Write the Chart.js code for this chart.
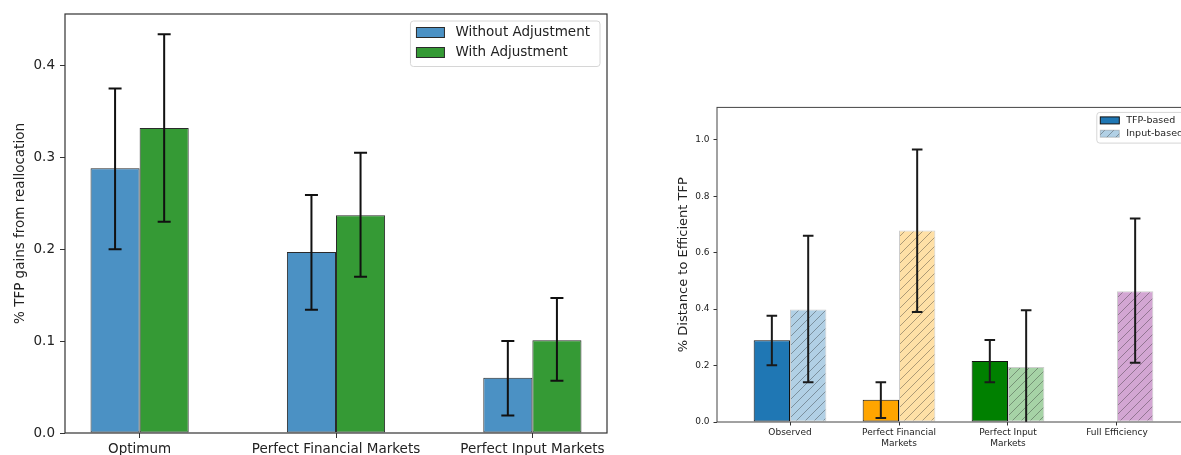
<!DOCTYPE html>
<html>
<head>
<meta charset="utf-8">
<script src="https://cdn.jsdelivr.net/npm/chart.js@4.4.1/dist/chart.umd.min.js"></script>
<style>
  html, body { margin: 0; padding: 0; background: #fff; width: 1181px; height: 455px; overflow: hidden; }
  #gains { position: absolute; left: 0; top: 0; }
  #distance { position: absolute; left: 660px; top: 98px; }
</style>
</head>
<body>
<canvas id="gains" width="640" height="455"></canvas>
<canvas id="distance" width="560" height="355"></canvas>
<script>
// TFP gains from reallocation, with and without adjustment
const gainScenarios = ['Optimum', 'Perfect Financial Markets', 'Perfect Input Markets'];
const withoutAdj = [0.288, 0.197, 0.060];
const withoutAdjLow = [0.200, 0.134, 0.019];
const withoutAdjHigh = [0.375, 0.259, 0.100];
const withAdj = [0.332, 0.237, 0.101];
const withAdjLow = [0.230, 0.170, 0.057];
const withAdjHigh = [0.434, 0.305, 0.147];
const gainTicks = [0, 0.1, 0.2, 0.3, 0.4];

// Distance to efficient TFP, TFP-based vs input-based
const distScenarios = [['Observed'], ['Perfect Financial', 'Markets'], ['Perfect Input', 'Markets'], ['Full Efficiency']];
const tfpBased = [0.290, 0.079, 0.216, 0.002];
const tfpLow = [0.201, 0.014, 0.141, null];
const tfpHigh = [0.377, 0.141, 0.291, null];
const inputBased = [0.399, 0.679, 0.195, 0.463];
const inputLow = [0.141, 0.390, -0.020, 0.210];
const inputHigh = [0.660, 0.966, 0.396, 0.721];
const distTicks = [0, 0.2, 0.4, 0.6, 0.8, 1.0];
const scenarioColors = ['#1f77b4', '#ffa500', '#008000', '#800080'];
const scenarioLight = ['#b1d0e5', '#ffe0a6', '#a6d3a6', '#d3a6d3'];

const FONT = 'DejaVu Sans';
const toPoints = arr => arr.map((v, i) => ({ x: i, y: v }));
const first = c => Array.isArray(c) ? c[0] : c;

// diagonal "//" hatch on a light fill
function hatch(ctx, color) {
    const c = document.createElement('canvas');
    c.width = c.height = 9;
    const g = c.getContext('2d');
    g.fillStyle = color;
    g.fillRect(0, 0, 9, 9);
    g.strokeStyle = 'rgba(40,40,40,0.38)';
    g.lineWidth = 1;
    g.beginPath();
    g.moveTo(-1, 10); g.lineTo(10, -1);
    g.moveTo(-1, 1); g.lineTo(1, -1);
    g.moveTo(8, 10); g.lineTo(10, 8);
    g.stroke();
    return ctx.createPattern(c, 'repeat');
}

// asymmetric error bars read from dataset.errLow / dataset.errHigh
const errorBars = {
    id: 'errorBars',
    afterDatasetsDraw(chart, args, opts) {
        const { ctx, chartArea: a } = chart;
        const y = chart.scales.y;
        ctx.save();
        ctx.beginPath();
        ctx.rect(a.left, a.top, a.right - a.left, a.bottom - a.top);
        ctx.clip();
        ctx.strokeStyle = opts.color;
        ctx.lineWidth = opts.width;
        chart.data.datasets.forEach((ds, di) => {
            if (!ds.errLow) return;
            chart.getDatasetMeta(di).data.forEach((bar, i) => {
                const lo = ds.errLow[i], hi = ds.errHigh[i];
                if (lo == null) return;
                const yLo = y.getPixelForValue(lo), yHi = y.getPixelForValue(hi);
                ctx.beginPath();
                ctx.moveTo(bar.x, yLo); ctx.lineTo(bar.x, yHi);
                ctx.moveTo(bar.x - opts.cap, yLo); ctx.lineTo(bar.x + opts.cap, yLo);
                ctx.moveTo(bar.x - opts.cap, yHi); ctx.lineTo(bar.x + opts.cap, yHi);
                ctx.stroke();
            });
        });
        ctx.restore();
    }
};

// full box around the plot area
const frame = {
    id: 'frame',
    afterDatasetsDraw(chart, args, opts) {
        const { ctx, chartArea: a } = chart;
        ctx.save();
        ctx.strokeStyle = opts.color;
        ctx.lineWidth = opts.width;
        ctx.strokeRect(a.left, a.top, a.right - a.left, a.bottom - a.top);
        ctx.restore();
    }
};

// framed legend in the upper right corner of the plot area
const boxLegend = {
    id: 'boxLegend',
    afterDraw(chart, args, o) {
        const { ctx, chartArea: a } = chart;
        const items = chart.data.datasets;
        ctx.save();
        ctx.font = `${o.size}px "${FONT}"`;
        const textW = Math.max(...items.map(ds => ctx.measureText(ds.label).width));
        const w = o.padLeft + o.patchW + o.gap + textW + o.padRight;
        const h = o.padTop + o.rowH * (items.length - 1) + o.padBottom;
        const x0 = a.right - o.insetRight - w;
        const y0 = a.top + o.insetTop;
        ctx.beginPath();
        ctx.roundRect(x0, y0, w, h, 3);
        ctx.fillStyle = 'rgba(255,255,255,0.85)';
        ctx.fill();
        ctx.strokeStyle = '#d6d6d6';
        ctx.lineWidth = 1;
        ctx.stroke();
        items.forEach((ds, i) => {
            const yc = y0 + o.padTop + i * o.rowH;
            const px = x0 + o.padLeft;
            ctx.fillStyle = first(ds.backgroundColor);
            ctx.fillRect(px, yc - o.patchH / 2, o.patchW, o.patchH);
            ctx.strokeStyle = first(ds.borderColor);
            ctx.lineWidth = 1;
            ctx.strokeRect(px, yc - o.patchH / 2, o.patchW, o.patchH);
            ctx.fillStyle = '#222';
            ctx.textBaseline = 'middle';
            ctx.textAlign = 'left';
            ctx.fillText(ds.label, px + o.patchW + o.gap, yc);
        });
        ctx.restore();
    }
};

Chart.register(errorBars, frame, boxLegend);

function fixedTicks(values) {
    return scale => { scale.ticks = values.map(v => ({ value: v })); };
}

// left panel
new Chart(document.getElementById('gains'), {
    type: 'bar',
    data: {
        datasets: [{
            label: 'Without Adjustment',
            data: toPoints(withoutAdj),
            backgroundColor: '#4b91c4',
            borderColor: '#2a2a2a',
            borderWidth: 1,
            borderSkipped: false,
            errLow: withoutAdjLow,
            errHigh: withoutAdjHigh
        }, {
            label: 'With Adjustment',
            data: toPoints(withAdj),
            backgroundColor: '#359a35',
            borderColor: '#2a2a2a',
            borderWidth: 1,
            borderSkipped: false,
            errLow: withAdjLow,
            errHigh: withAdjHigh
        }]
    },
    options: {
        responsive: false,
        animation: false,
        events: [],
        categoryPercentage: 0.5,
        barPercentage: 1,
        layout: { padding: { top: 14, right: 33, left: 0, bottom: 0 } },
        scales: {
            x: {
                type: 'linear',
                min: -0.38,
                max: 2.38,
                offset: false,
                afterBuildTicks: fixedTicks(gainScenarios.map((_, i) => i)),
                afterFit: s => { s.height = 22; },
                grid: { drawOnChartArea: false, offset: false, tickLength: 5, color: '#333' },
                border: { display: false },
                ticks: {
                    autoSkip: false,
                    maxRotation: 0,
                    padding: 3,
                    color: '#222',
                    font: { family: FONT, size: 13.5 },
                    callback: v => gainScenarios[v]
                }
            },
            y: {
                min: 0,
                max: 0.456,
                afterBuildTicks: fixedTicks(gainTicks),
                afterFit: s => { s.width = 65; },
                grid: { drawOnChartArea: false, tickLength: 5, color: '#333' },
                border: { display: false },
                ticks: {
                    padding: 5,
                    color: '#222',
                    font: { family: FONT, size: 13.5 },
                    callback: v => v.toFixed(1)
                },
                title: {
                    display: true,
                    text: '% TFP gains from reallocation',
                    color: '#222',
                    font: { family: FONT, size: 13.5 },
                    padding: { top: 12, bottom: 0 }
                }
            }
        },
        plugins: {
            legend: { display: false },
            tooltip: { enabled: false },
            errorBars: { color: '#111', width: 2, cap: 6.5 },
            frame: { color: '#333', width: 1.2 },
            boxLegend: {
                size: 13.5, insetTop: 7, insetRight: 7,
                padLeft: 6, padRight: 10, padTop: 11.5, padBottom: 14, rowH: 20,
                patchW: 28, patchH: 10, gap: 11
            }
        }
    }
});

// right panel
const distCanvas = document.getElementById('distance');
const distCtx = distCanvas.getContext('2d');

new Chart(distCanvas, {
    type: 'bar',
    data: {
        datasets: [{
            label: 'TFP-based',
            data: toPoints(tfpBased),
            backgroundColor: scenarioColors,
            borderColor: ['#111', '#111', '#111', 'rgba(0,0,0,0.15)'],
            borderWidth: 1,
            borderSkipped: false,
            errLow: tfpLow,
            errHigh: tfpHigh
        }, {
            label: 'Input-based',
            data: toPoints(inputBased),
            backgroundColor: scenarioLight.map(c => hatch(distCtx, c)),
            borderColor: 'rgba(90,90,90,0.3)',
            borderWidth: 1,
            borderSkipped: false,
            errLow: inputLow,
            errHigh: inputHigh
        }]
    },
    options: {
        responsive: false,
        animation: false,
        events: [],
        categoryPercentage: 0.667,
        barPercentage: 1,
        layout: { padding: { top: 5, right: 30, left: 0, bottom: 0 } },
        scales: {
            x: {
                type: 'linear',
                min: -0.67,
                max: 3.67,
                offset: false,
                afterBuildTicks: fixedTicks(distScenarios.map((_, i) => i)),
                afterFit: s => { s.height = 31; },
                grid: { drawOnChartArea: false, offset: false, tickLength: 3.5, color: '#333' },
                border: { display: false },
                ticks: {
                    autoSkip: false,
                    maxRotation: 0,
                    padding: 2,
                    color: '#222',
                    font: { family: FONT, size: 9 },
                    callback: v => distScenarios[v]
                }
            },
            y: {
                min: 0,
                max: 1.115,
                afterBuildTicks: fixedTicks(distTicks),
                afterFit: s => { s.width = 57; },
                grid: { drawOnChartArea: false, tickLength: 3.5, color: '#333' },
                border: { display: false },
                ticks: {
                    padding: 4,
                    color: '#222',
                    font: { family: FONT, size: 9 },
                    callback: v => v.toFixed(1)
                },
                title: {
                    display: true,
                    text: '% Distance to Efficient TFP',
                    color: '#222',
                    font: { family: FONT, size: 13 },
                    padding: { top: 15.5, bottom: 0 }
                }
            }
        },
        plugins: {
            legend: { display: false },
            tooltip: { enabled: false },
            errorBars: { color: '#1a1a1a', width: 2, cap: 5.3 },
            frame: { color: '#444', width: 1 },
            boxLegend: {
                size: 9.5, insetTop: 5, insetRight: 4,
                padLeft: 3.5, padRight: 3, padTop: 8, padBottom: 9.4, rowH: 13.3,
                patchW: 19, patchH: 7, gap: 7
            }
        }
    }
});
</script>
</body>
</html>
